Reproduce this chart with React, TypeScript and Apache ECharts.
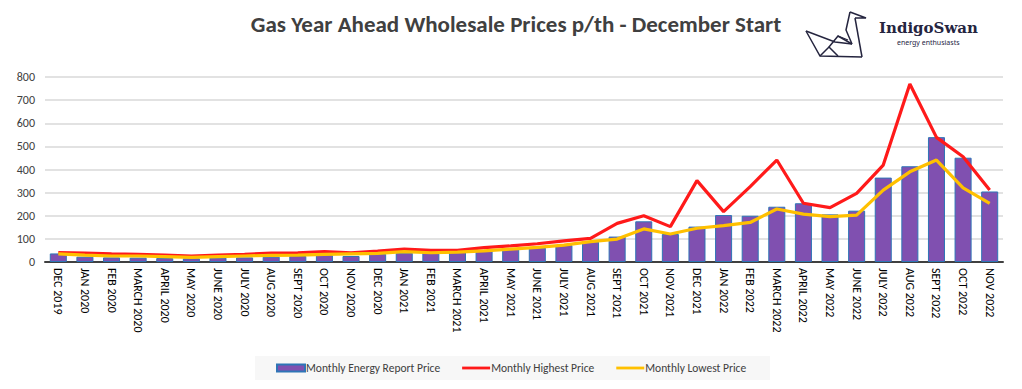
import React, { useEffect, useRef } from "react";
import * as echarts from "echarts";

const categories = [
  "DEC 2019", "JAN 2020", "FEB 2020", "MARCH 2020", "APRIL 2020", "MAY 2020",
  "JUNE 2020", "JULY 2020", "AUG 2020", "SEPT 2020", "OCT 2020", "NOV 2020",
  "DEC 2020", "JAN 2021", "FEB 2021", "MARCH 2021", "APRIL 2021", "MAY 2021",
  "JUNE 2021", "JULY 2021", "AUG 2021", "SEPT 2021", "OCT 2021", "NOV 2021",
  "DEC 2021", "JAN 2022", "FEB 2022", "MARCH 2022", "APRIL 2022", "MAY 2022",
  "JUNE 2022", "JULY 2022", "AUG 2022", "SEPT 2022", "OCT 2022", "NOV 2022",
];

const reportPrice = [
  37, 23, 20, 19, 17, 16, 19, 20, 23, 26, 30, 26,
  35, 40, 42, 45, 49, 58, 62, 73, 88, 110, 176, 121,
  153, 203, 200, 239, 254, 206, 222, 365, 414, 540, 451, 305,
];

const highestPrice = [
  41, 38, 35, 33, 30, 26, 30, 33, 38, 40, 45, 40,
  47, 56, 50, 50, 62, 70, 79, 91, 102, 167, 200, 153,
  352, 218, 326, 441, 254, 235, 297, 419, 770, 539, 455, 311,
];

const lowestPrice = [
  35, 30, 26, 26, 23, 20, 23, 26, 29, 30, 33, 35,
  37, 45, 40, 43, 48, 56, 63, 73, 88, 99, 143, 121,
  146, 157, 171, 229, 207, 196, 203, 311, 390, 441, 321, 254,
];

const yTicks = { min: 0, max: 800, interval: 100 };

const FONT = "Carlito, 'Liberation Sans Narrow', 'Open Sans', sans-serif";
const LINE_ICON = "path://M0,0 L40,0 L40,4 L0,4 Z";

export default function App() {
  const ref = useRef<HTMLDivElement>(null);

  useEffect(() => {
    if (!ref.current) return;
    const chart = echarts.init(ref.current, undefined, { renderer: "svg" });
    const swan = "#25253f";
    const frame = { stroke: "#b4b4b4", lineWidth: 2 };
    const option: any = {
      animation: false,
      backgroundColor: "#ffffff",
      textStyle: { fontFamily: FONT },
      title: {
        text: "Gas Year Ahead Wholesale Prices p/th - December Start",
        left: 511,
        top: 7,
        textAlign: "center",
        textStyle: {
          fontFamily: FONT,
          fontSize: 23,
          fontWeight: "bold",
          color: "#404040",
        },
      },
      grid: { left: 45, right: 19, top: 77, bottom: 127, containLabel: false },
      legend: {
        bottom: 10,
        left: 271,
        itemGap: 22,
        itemWidth: 28,
        itemHeight: 7,
        textStyle: { fontFamily: FONT, fontSize: 11.5, color: "#404040", padding: [0, 0, 0, -4] },
        data: [
          { name: "Monthly Energy Report Price", icon: "rect" },
          { name: "Monthly Highest Price", icon: LINE_ICON },
          { name: "Monthly Lowest Price", icon: LINE_ICON },
        ],
      },
      xAxis: {
        type: "category",
        data: categories,
        axisLine: { lineStyle: { color: "#404040", width: 2 } },
        axisTick: { show: false },
        axisLabel: {
          rotate: -90,
          interval: 0,
          fontFamily: FONT,
          fontSize: 12,
          color: "#000000",
          margin: 6,
        },
      },
      yAxis: {
        type: "value",
        min: yTicks.min,
        max: yTicks.max,
        interval: yTicks.interval,
        axisLine: { show: false },
        axisTick: { show: false },
        splitLine: { lineStyle: { color: "#d9d9d9", width: 1.5 } },
        axisLabel: { fontFamily: FONT, fontSize: 12, color: "#404040", margin: 10 },
      },
      series: [
        {
          name: "Monthly Energy Report Price",
          type: "bar",
          data: reportPrice,
          barWidth: "64%",
          itemStyle: { color: "#8050b0", borderColor: "#2e75b6", borderWidth: 1 },
        },
        {
          name: "Monthly Highest Price",
          type: "line",
          data: highestPrice,
          symbol: "none",
          showSymbol: false,
          lineStyle: { color: "#ff1a1a", width: 3.2 },
          itemStyle: { color: "#ff1a1a" },
        },
        {
          name: "Monthly Lowest Price",
          type: "line",
          data: lowestPrice,
          symbol: "none",
          showSymbol: false,
          lineStyle: { color: "#ffc000", width: 3.2 },
          itemStyle: { color: "#ffc000" },
        },
      ],
      graphic: [
        {
          type: "rect",
          z: -5,
          silent: true,
          shape: { x: 255, y: 356, width: 515, height: 24 },
          style: { fill: "#f7f7f7" },
        },
        { type: "line", z: 100, silent: true, shape: { x1: 0, y1: 1, x2: 1022, y2: 1 }, style: frame },
        { type: "line", z: 100, silent: true, shape: { x1: 1, y1: 0, x2: 1, y2: 389 }, style: frame },
        { type: "line", z: 100, silent: true, shape: { x1: 1020, y1: 0, x2: 1020, y2: 389 }, style: frame },
        { type: "line", z: 100, silent: true, shape: { x1: 0, y1: 387, x2: 1022, y2: 387 }, style: frame },
        {
          type: "group",
          silent: true,
          children: [
            { type: "polyline", shape: { points: [[850, 12], [866, 18], [855, 18]] }, style: { stroke: swan, fill: "none", lineWidth: 1.5 } },
            { type: "polyline", shape: { points: [[855, 18], [862, 57]] }, style: { stroke: swan, fill: "none", lineWidth: 1.5 } },
            { type: "polyline", shape: { points: [[850, 12], [846, 30], [852, 44]] }, style: { stroke: swan, fill: "none", lineWidth: 1.5 } },
            { type: "polyline", shape: { points: [[806, 31], [820, 56], [862, 57]] }, style: { stroke: swan, fill: "none", lineWidth: 1.5 } },
            { type: "polyline", shape: { points: [[806, 31], [835, 42], [852, 44]] }, style: { stroke: swan, fill: "none", lineWidth: 1.5 } },
            { type: "polyline", shape: { points: [[820, 56], [829, 47], [838, 56]] }, style: { stroke: swan, fill: "none", lineWidth: 1.5 } },
            { type: "polyline", shape: { points: [[829, 47], [838, 36], [852, 44]] }, style: { stroke: swan, fill: "none", lineWidth: 1.5 } },
            { type: "polyline", shape: { points: [[838, 36], [848, 40]] }, style: { stroke: swan, fill: "none", lineWidth: 1.2 } },
          ],
        },
        {
          type: "text",
          silent: true,
          x: 879,
          y: 20,
          style: {
            text: "IndigoSwan",
            fontFamily: "'DejaVu Serif', serif",
            fontSize: 15,
            fontWeight: "bold",
            fill: swan,
          },
        },
        {
          type: "text",
          silent: true,
          x: 897,
          y: 39,
          style: {
            text: "energy enthusiasts",
            fontFamily: "'Noto Sans', sans-serif",
            fontSize: 7,
            fill: swan,
          },
        },
      ],
    };
    chart.setOption(option);
    return () => chart.dispose();
  }, []);

  return <div ref={ref} style={{ width: 1022, height: 389, margin: -8 }} />;
}
